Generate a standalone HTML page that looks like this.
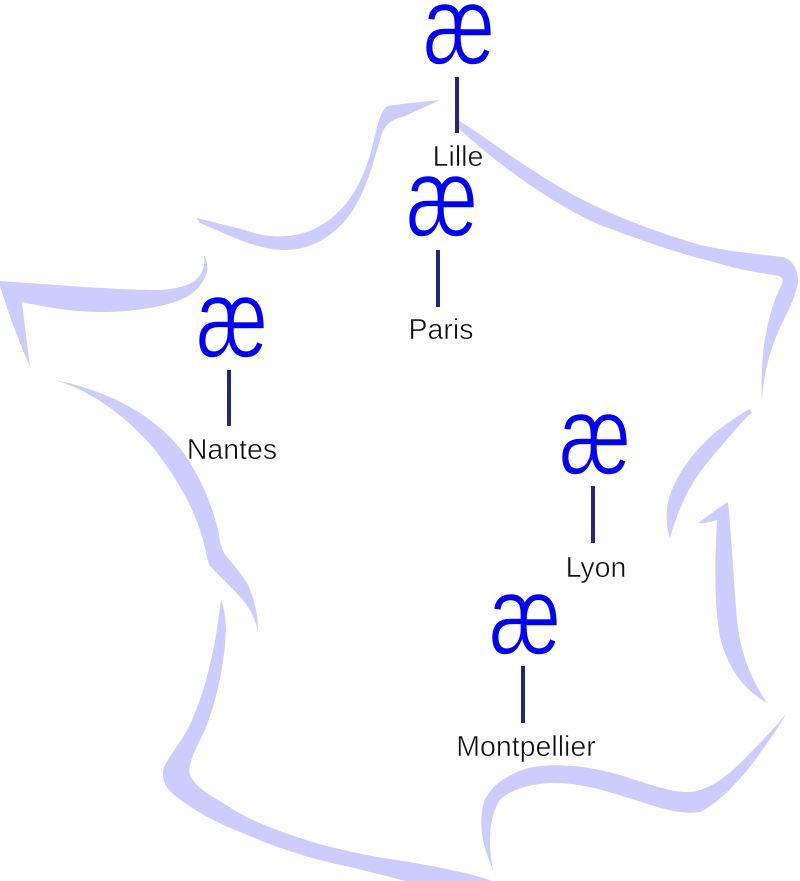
<!DOCTYPE html>
<html>
<head>
<meta charset="utf-8">
<style>
html,body{margin:0;padding:0;background:#fff;}
svg{display:block;}
.ae{font-family:"Liberation Sans",sans-serif;font-size:112px;fill:#0000ff;stroke:#fff;stroke-width:1.6px;paint-order:normal;}
.lbl{font-family:"Liberation Sans",sans-serif;font-size:28.5px;fill:#111;stroke:#fff;stroke-width:0.5px;}
</style>
</head>
<body>
<svg width="800" height="881" viewBox="0 0 800 881" xmlns="http://www.w3.org/2000/svg">
<g fill="#ccccff">
  <!-- A: north-west stroke from Lille -->
  <path d="M440,100 C420,102 400,104 388,106 C380,110 378,125 370,155 C360,188 345,212 318,227 C295,240 265,238 245,230 L197,218 L200,223 C225,233 255,250 285,250 C320,250 345,226 357,203 C370,180 376,152 382,133 C386,123 394,119 405,116 Z"/>
  <!-- B: north-east stroke -->
  <path d="M458,120 C490,140 530,172 583,200 C620,218 650,230 700,245 C730,252 760,254 783,257 C792,260 798,268 798,282 C796,297 786,315 779,330 C770,350 763,375 762,402 C761,380 762,362 764,345 C767,325 772,305 779,290 C784,281 784,278 779,276 C760,273 740,270 717,263 C690,256 670,250 650,243 C620,232 600,226 583,217 C540,195 495,162 457,127 Z"/>
  <!-- C: Brittany north coast -->
  <path d="M204,255 C205,262 204,270 200,275 C195,283 185,288 160,290 C120,290 70,286 0,281 L0,286 C5,302 14,330 30,367 C27,340 24,320 22,302 C40,306 70,312 100,312 C130,312 160,308 180,300 C195,294 203,284 207,272 C208,265 206,258 204,255 Z"/>
  <!-- D: Bay of Biscay -->
  <path d="M55,380 C95,392 130,420 155,450 C178,480 195,510 203,540 C206,552 207,560 210,566 C225,582 244,598 251,612 C255,620 257,626 258,632 C258,617 256,603 248,585 C240,570 230,562 224,553 C220,545 220,540 218,530 C212,505 202,480 185,455 C160,420 115,392 55,380 Z"/>
  <!-- E: south-west coast and Pyrenees -->
  <path d="M221,600 C218,620 216,640 212,655 C208,675 202,697 192,720 C185,737 172,752 165,765 C160,776 164,786 173,794 C190,808 210,820 240,832 C270,845 305,858 350,867 C370,872 390,877 405,881 L492,881 C480,876 440,866 383,858 C350,852 320,845 300,838 C270,828 245,818 228,806 C210,795 195,787 190,775 C187,766 195,750 205,730 C215,705 222,675 225,645 C227,625 225,610 221,600 Z"/>
  <!-- F: Mediterranean coast -->
  <path d="M493,870 C482,845 478,822 484,802 C490,787 504,776 525,769 C545,763 575,765 600,770 C630,776 658,790 684,792 C705,793 725,780 750,753 C765,738 777,725 787,713 C775,732 762,752 745,773 C730,790 715,805 700,812 C680,815 660,808 635,800 C610,792 582,783 555,783 C530,783 510,790 500,800 C490,815 487,840 493,870 Z"/>
  <!-- G: Alps -->
  <path d="M698,523 C708,516 718,508 728,502 C731,530 733,570 737,620 C740,650 749,676 767,703 C745,690 728,670 720,637 C715,610 714,570 717,520 C710,522 704,524 698,523 Z"/>
  <!-- H: Jura -->
  <path d="M749,409 C735,418 716,430 705,442 C690,457 677,475 670,495 C665,510 666,525 670,538 C675,520 682,502 690,488 C700,470 716,452 735,430 C742,422 747,416 752,413 Z"/>
</g>

<g stroke="#25257f" stroke-width="4">
  <line x1="457" y1="77" x2="457" y2="133"/>
  <line x1="438" y1="250" x2="438" y2="307"/>
  <line x1="229" y1="370" x2="229" y2="426"/>
  <line x1="593" y1="486" x2="593" y2="543"/>
  <line x1="523" y1="666" x2="523" y2="723"/>
</g>

<g class="ae" text-anchor="middle">
  <text transform="translate(459,64) scale(0.72,1)">æ</text>
  <text transform="translate(442,236) scale(0.72,1)">æ</text>
  <text transform="translate(232,357) scale(0.72,1)">æ</text>
  <text transform="translate(595,474) scale(0.72,1)">æ</text>
  <text transform="translate(525,654) scale(0.72,1)">æ</text>
</g>

<g class="lbl" text-anchor="middle">
  <text x="458" y="166">Lille</text>
  <text x="441" y="339">Paris</text>
  <text x="232" y="459">Nantes</text>
  <text x="596" y="577">Lyon</text>
  <text x="526" y="756">Montpellier</text>
</g>
</svg>
</body>
</html>
